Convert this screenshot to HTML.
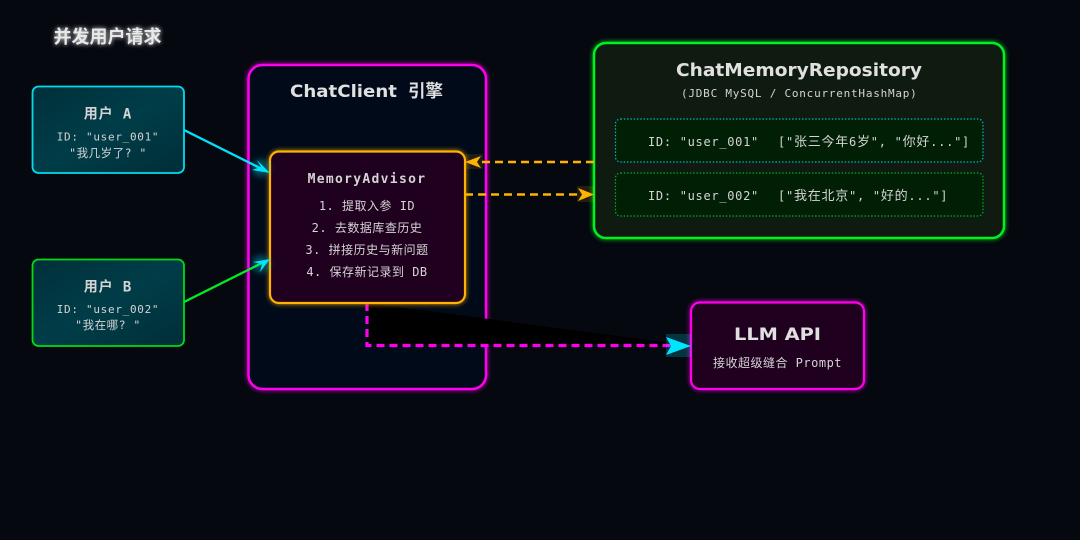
<!DOCTYPE html>
<html><head><meta charset="utf-8"><style>
html,body{margin:0;padding:0;background:#05080f;width:1080px;height:540px;overflow:hidden}
svg{display:block}
.m{font-family:"DejaVu Sans Mono","Liberation Mono","Noto Sans CJK SC",monospace;fill:#d4d4d4}
.t{font-family:"DejaVu Sans","Liberation Sans","Noto Sans CJK SC",sans-serif;fill:#e0e0e0;font-weight:bold}
.c{font-size:13px}
</style></head><body>
<svg width="1080" height="540" viewBox="0 0 1080 540" xmlns="http://www.w3.org/2000/svg">
<defs>
<filter id="g" x="-20%" y="-20%" width="140%" height="140%" color-interpolation-filters="sRGB"><feGaussianBlur stdDeviation="2.5" result="b"/><feMerge><feMergeNode in="b"/><feMergeNode in="SourceGraphic"/></feMerge></filter>
<filter id="tg" x="-20%" y="-50%" width="140%" height="200%" color-interpolation-filters="sRGB"><feGaussianBlur stdDeviation="2.5" result="b"/><feMerge><feMergeNode in="b"/><feMergeNode in="SourceGraphic"/></feMerge></filter>
<filter id="bl" x="-50%" y="-50%" width="200%" height="200%" color-interpolation-filters="sRGB"><feGaussianBlur stdDeviation="3"/></filter>
<linearGradient id="ug" x1="0" y1="0" x2="1" y2="1"><stop offset="0" stop-color="#00303a"/><stop offset=".5" stop-color="#003d48"/><stop offset="1" stop-color="#002e38"/></linearGradient>
</defs>
<rect width="1080" height="540" fill="#05080f"/>

<text x="107.500" y="43" text-anchor="middle" style="font-family:'Noto Sans CJK SC',sans-serif;font-weight:700;fill:#e8e8e8" font-size="18" filter="url(#tg)">并发用户请求</text>

<!-- ChatClient -->
<rect x="248.500" y="65" width="237.500" height="324" rx="14" fill="#000a18" stroke="#ff00ee" stroke-width="2.500" filter="url(#g)"/>
<text x="290" y="97" class="t" font-size="17" textLength="107" lengthAdjust="spacingAndGlyphs">ChatClient</text>
<text x="408" y="97" style="font-family:'Noto Sans CJK SC',sans-serif;font-weight:700;fill:#e0e0e0" font-size="17.500">引擎</text>

<!-- Repo -->
<rect x="594" y="43" width="410" height="195" rx="12" fill="#0f1a10" stroke="#00f020" stroke-width="2.500" filter="url(#g)"/>
<text x="676" y="76" class="t" font-size="18" textLength="246" lengthAdjust="spacingAndGlyphs">ChatMemoryRepository</text>
<text x="681" y="97" class="m" font-size="11" letter-spacing=".77">(JDBC MySQL / ConcurrentHashMap)</text>
<rect x="615.500" y="119" width="367.500" height="43" rx="5" fill="#001f05" stroke="#00b8c8" stroke-width="1.200" stroke-dasharray="1.500 1.800"/>
<rect x="615.500" y="173" width="367.500" height="43" rx="5" fill="#001f05" stroke="#00b020" stroke-width="1.200" stroke-dasharray="1.500 1.800"/>
<text x="648" y="146" class="m" font-size="12" letter-spacing=".7">ID: "user_001"</text>
<text x="778" y="146" class="m" font-size="12" letter-spacing=".75">["<tspan class="c">张三今年</tspan>6<tspan class="c">岁</tspan>", "<tspan class="c">你好</tspan>..."]</text>
<text x="648" y="200" class="m" font-size="12" letter-spacing=".7">ID: "user_002"</text>
<text x="778" y="200" class="m" font-size="12" letter-spacing=".75">["<tspan class="c">我在北京</tspan>", "<tspan class="c">好的</tspan>..."]</text>

<!-- User A -->
<rect x="32.500" y="86.500" width="151.500" height="86.500" rx="6" fill="url(#ug)" stroke="#00dcee" stroke-width="1.800"/>
<text x="108" y="118.500" text-anchor="middle" class="m" font-size="14" letter-spacing=".9" font-weight="bold">用户 A</text>
<text x="108" y="140.500" text-anchor="middle" class="m" font-size="11" letter-spacing=".7">ID: "user_001"</text>
<text x="108" y="157" text-anchor="middle" class="m" font-size="11.500" letter-spacing=".5">"我几岁了? "</text>

<!-- User B -->
<rect x="32.500" y="259.500" width="151.500" height="86.500" rx="6" fill="url(#ug)" stroke="#00dc10" stroke-width="1.800"/>
<text x="108" y="291.500" text-anchor="middle" class="m" font-size="14" letter-spacing=".9" font-weight="bold">用户 B</text>
<text x="108" y="313" text-anchor="middle" class="m" font-size="11" letter-spacing=".7">ID: "user_002"</text>
<text x="108" y="329" text-anchor="middle" class="m" font-size="11.500" letter-spacing=".5">"我在哪? "</text>

<!-- black fill + dashed connector -->
<path d="M367,303 L367,345.500 L690,345.500 Z" fill="#000"/>
<path d="M367,303 L367,345.500 L672,345.500" fill="none" stroke="#ff00ee" stroke-width="3.200" stroke-dasharray="8 5"/>

<!-- Memory Advisor -->
<rect x="270" y="151.500" width="195" height="151.500" rx="9" fill="#20001f" stroke="#ffb300" stroke-width="2.200" filter="url(#g)"/>
<text x="367" y="183" text-anchor="middle" class="m" font-size="13" font-weight="bold" letter-spacing="1.300">MemoryAdvisor</text>
<text x="367" y="210" text-anchor="middle" class="m" font-size="12" letter-spacing=".5">1. 提取入参 ID</text>
<text x="367" y="232" text-anchor="middle" class="m" font-size="12" letter-spacing=".5">2. 去数据库查历史</text>
<text x="367" y="254" text-anchor="middle" class="m" font-size="12" letter-spacing=".5">3. 拼接历史与新问题</text>
<text x="367" y="276" text-anchor="middle" class="m" font-size="12" letter-spacing=".5">4. 保存新记录到 DB</text>

<!-- LLM -->
<rect x="691" y="302.500" width="173" height="86.500" rx="9" fill="#20001f" stroke="#ff00ee" stroke-width="2.200" filter="url(#g)"/>
<text x="734" y="340" class="t" font-size="17" textLength="87" lengthAdjust="spacingAndGlyphs">LLM API</text>
<text x="777.500" y="367" text-anchor="middle" class="m" font-size="12" letter-spacing=".5">接收超级缝合 Prompt</text>

<!-- Connectors -->
<line x1="184" y1="130" x2="262" y2="169" stroke="#00e5ff" stroke-width="2.200"/>
<line x1="184" y1="302" x2="262" y2="263" stroke="#00f020" stroke-width="2.200"/>
<line x1="594" y1="162" x2="480" y2="162" stroke="#ffb300" stroke-width="2.600" stroke-dasharray="8 5"/>
<line x1="465" y1="194.500" x2="580" y2="194.500" stroke="#ffb300" stroke-width="2.600" stroke-dasharray="8 5"/>

<!-- glow patches -->
<rect x="666" y="334" width="25" height="23" fill="#00e5ff" opacity=".2"/>
<rect x="465" y="154" width="18" height="15" fill="#ffb300" opacity=".12"/>
<rect x="577" y="186" width="17" height="16" fill="#ffb300" opacity=".12"/>
<circle cx="261" cy="168" r="9" fill="#00e5ff" opacity=".3" filter="url(#bl)"/>
<circle cx="261" cy="264" r="9" fill="#00e5ff" opacity=".3" filter="url(#bl)"/>

<!-- Arrowheads -->
<polygon points="270,173 252,170 261,167 257,160" fill="#00e5ff"/>
<polygon points="270,259 253,262 262,264 260,272" fill="#00e5ff"/>
<polygon points="691,346 666,337 671,346 666,355" fill="#00e5ff"/>
<polygon points="465,162 481,156 477,162 481,168" fill="#ffb300"/>
<polygon points="594,194.500 578,188 582,194.500 578,201" fill="#ffb300"/>
</svg>
</body></html>
